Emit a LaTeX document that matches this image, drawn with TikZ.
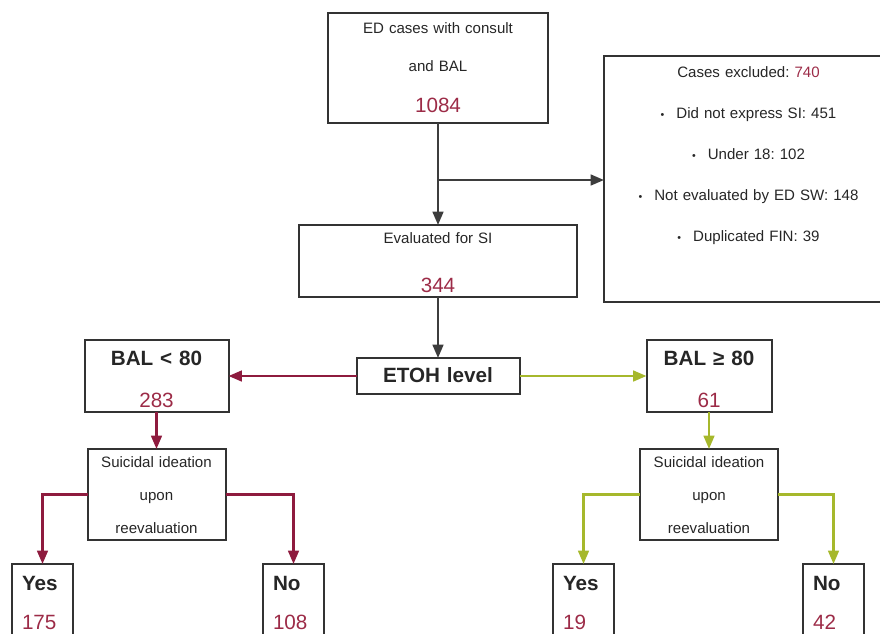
\documentclass[tikz,border=0pt]{standalone}
\usepackage{fontspec}
\setmainfont{Liberation Sans}
\usetikzlibrary{arrows.meta, positioning, calc}
\frenchspacing

\definecolor{wine}{HTML}{8E1B3E}
\definecolor{numred}{HTML}{9C2B47}
\definecolor{lime}{HTML}{A6B82C}
\definecolor{edge}{HTML}{333333}
\definecolor{ink}{HTML}{262626}

\newcommand{\txtfont}{\fontsize{11.3}{28.5}\selectfont}
\newcommand{\hdfont}{\fontsize{15.5}{31.5}\selectfont\bfseries}
\newcommand{\cnt}[1]{{\fontsize{15.5}{18}\selectfont\mdseries\color{numred}#1}}
\newcommand{\bul}{{\fontsize{8}{8}\selectfont\textbullet}\hspace{9pt}}

\begin{document}
\begin{tikzpicture}[
    x=0.75pt, y=-0.75pt,
    box/.style={rectangle, draw=edge, line width=1.5pt, inner sep=0pt, outer sep=0pt, align=center, text=ink, font=\txtfont},
    outcome/.style={box, anchor=north west, align=left, inner xsep=7.5pt, text width=30.75pt, text height=19.5pt, text depth=75pt, font=\fontsize{15.5}{29.5}\selectfont\bfseries},
    greyline/.style={draw=edge!95, line width=1.8pt, -{Triangle[length=10pt,width=8pt]}},
    redline/.style={draw=wine, line width=1.8pt, -{Triangle[length=10pt,width=8pt]}},
    greenline/.style={draw=lime, line width=1.8pt, -{Triangle[length=10pt,width=8pt]}}
]
    \useasboundingbox (0,0) rectangle (880,633);
    \clip (0,0) rectangle (880,633);

    \node[box, anchor=north, text width=165pt, text height=15pt, text depth=67.5pt] (edcases) at (438,13) {ED cases with consult\\and BAL\\[2.25pt]\cnt{1084}};
    \node[box, below right=32.25pt and 42pt of edcases.north east, anchor=north west, text width=216.75pt, text height=15.75pt, text depth=168.75pt, font=\fontsize{11.3}{30.9}\selectfont] (excl) {Cases excluded: \textcolor{numred}{740}\\\bul Did not express SI: 451\\\bul Under 18: 102\\\bul Not evaluated by ED SW: 148\\\bul Duplicated FIN: 39};
    \node[box, below=76.5pt of edcases, text width=208.5pt, text height=13.5pt, text depth=40.5pt] (eval) {Evaluated for SI\\[8.25pt]\cnt{344}};
    \node[box, below=45.75pt of eval, text width=122.25pt, text height=18pt, text depth=9pt, font=\hdfont] (etoh) {ETOH level};
    \node[box, left=96pt of etoh, text width=108pt, text height=18.75pt, text depth=35.25pt, font=\hdfont] (ballow) {BAL < 80\\\cnt{283}};
    \node[box, right=95.25pt of etoh, text width=93.75pt, text height=18.75pt, text depth=35.25pt, font=\hdfont] (balhigh) {BAL ≥ 80\\\cnt{61}};
    \node[box, below=27.75pt of ballow, text width=103.5pt, text height=14pt, text depth=54.25pt, font=\fontsize{11.3}{24.75}\selectfont] (sileft) {Suicidal ideation\\upon\\reevaluation};
    \node[box, below=27.75pt of balhigh, text width=103.5pt, text height=14pt, text depth=54.25pt, font=\fontsize{11.3}{24.75}\selectfont] (siright) {Suicidal ideation\\upon\\reevaluation};

    \node[outcome] (yesleft) at (12,564) {Yes\\\cnt{175}};
    \node[outcome] (noleft) at (263,564) {No\\\cnt{108}};
    \node[outcome] (yesright) at (553,564) {Yes\\\cnt{19}};
    \node[outcome] (noright) at (803,564) {No\\\cnt{42}};

    \coordinate (split) at ($(edcases.south)+(0,57)$);

    \draw[greyline] (edcases) -- (eval);
    \draw[greyline] (split) -- (split -| excl.west);
    \draw[greyline] (eval) -- (etoh);
    \draw[redline] (etoh) -- (ballow);
    \draw[greenline] (etoh) -- (balhigh);
    \draw[redline] (ballow) -- (sileft);
    \draw[greenline] (balhigh) -- (siright);
    \draw[redline] (sileft.west) -| (yesleft.north);
    \draw[redline] (sileft.east) -| (noleft.north);
    \draw[greenline] (siright.west) -| (yesright.north);
    \draw[greenline] (siright.east) -| (noright.north);
\end{tikzpicture}
\end{document}
